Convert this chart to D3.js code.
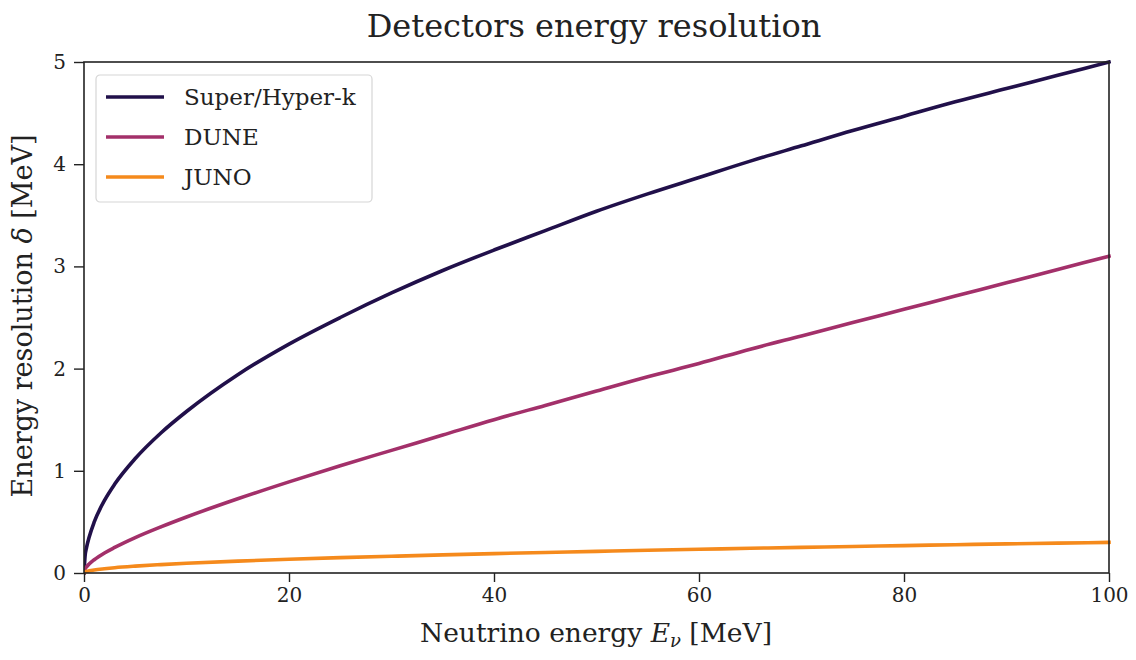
<!DOCTYPE html>
<html>
<head>
<meta charset="utf-8">
<script src="https://cdn.jsdelivr.net/npm/d3@7"></script>
<style>
  body { margin: 0; background: #fff; }
  svg { display: block; }
  text { font-family: "DejaVu Serif", "Liberation Serif", serif; fill: #222; }
</style>
</head>
<body>
<svg id="chart" width="1136" height="660"></svg>
<script>
// Neutrino energy samples [MeV]
const energy = [0, 0.1, 0.25, 0.5, 1, 2, 3, 5, 7.5, 10, 15, 20, 25, 30, 35, 40, 45, 50,
                55, 60, 65, 70, 75, 80, 85, 90, 95, 100];
// Energy resolution delta [MeV] for each detector
const superK = [0, 0.16, 0.25, 0.35, 0.50, 0.71, 0.87, 1.12, 1.37, 1.58, 1.94, 2.24, 2.50,
                2.74, 2.96, 3.16, 3.35, 3.54, 3.71, 3.87, 4.03, 4.18, 4.33, 4.47, 4.61,
                4.74, 4.87, 5.00];
const dune   = [0, 0.037, 0.060, 0.088, 0.13, 0.196, 0.25, 0.346, 0.451, 0.548, 0.726, 0.892,
                1.05, 1.20, 1.35, 1.50, 1.64, 1.78, 1.92, 2.05, 2.19, 2.32, 2.45, 2.58,
                2.71, 2.84, 2.97, 3.10];
const juno   = [0, 0.0095, 0.015, 0.021, 0.030, 0.042, 0.052, 0.067, 0.082, 0.095, 0.116,
                0.134, 0.150, 0.164, 0.177, 0.190, 0.201, 0.212, 0.222, 0.232, 0.242, 0.251,
                0.260, 0.268, 0.277, 0.285, 0.292, 0.300];
const seriesNames = ["Super/Hyper-k", "DUNE", "JUNO"];
const seriesColors = ["#21104a", "#a3306a", "#f58a1c"];
const xTicks = [0, 20, 40, 60, 80, 100];
const yTicks = [0, 1, 2, 3, 4, 5];

const series = [superK, dune, juno].map((vals, i) => ({
  name: seriesNames[i],
  color: seriesColors[i],
  points: energy.map((e, j) => [e, vals[j]])
}));

const svg = d3.select("#chart");
const margin = { left: 84, right: 27, top: 62, bottom: 87 };
const W = 1136, H = 660;

const x = d3.scaleLinear().domain([0, 100]).range([margin.left, W - margin.right]);
const y = d3.scaleLinear().domain([0, 5]).range([H - margin.bottom, margin.top]);

// Curves
const line = d3.line().x(d => x(d[0])).y(d => y(d[1])).curve(d3.curveMonotoneX);
const plot = svg.append("g");
plot.append("clipPath").attr("id", "clip").append("rect")
  .attr("x", x(0)).attr("y", y(5) - 2).attr("width", x(100) - x(0) + 2).attr("height", y(0) - y(5) + 4);
series.forEach(s => {
  plot.append("path")
    .attr("d", line(s.points))
    .attr("fill", "none")
    .attr("stroke", s.color)
    .attr("stroke-width", 3.6)
    .attr("stroke-linecap", "square")
    .attr("clip-path", "url(#clip)");
});

// Frame
svg.append("rect")
  .attr("x", x(0)).attr("y", y(5))
  .attr("width", x(100) - x(0)).attr("height", y(0) - y(5))
  .attr("fill", "none").attr("stroke", "#222").attr("stroke-width", 1.6);

// Axes
const xAxis = svg.append("g").attr("transform", `translate(0,${y(0)})`)
  .call(d3.axisBottom(x).tickValues(xTicks).tickFormat(d3.format("d")).tickSize(9).tickPadding(6));
const yAxis = svg.append("g").attr("transform", `translate(${x(0)},0)`)
  .call(d3.axisLeft(y).tickValues(yTicks).tickFormat(d3.format("d")).tickSize(10).tickPadding(8));
[xAxis, yAxis].forEach(a => {
  a.select(".domain").remove();
  a.selectAll(".tick line").attr("stroke", "#222").attr("stroke-width", 1.4);
  a.selectAll(".tick text").attr("font-size", 20).attr("fill", "#222")
    .style("font-family", '"DejaVu Serif", serif');
});

// Title and axis labels
svg.append("text").attr("x", 594).attr("y", 37)
  .attr("text-anchor", "middle").attr("font-size", 32).text("Detectors energy resolution");

const xl = svg.append("text").attr("x", 596).attr("y", 642)
  .attr("text-anchor", "middle").attr("font-size", 26.5);
xl.append("tspan").text("Neutrino energy ");
xl.append("tspan").attr("font-style", "italic").text("E");
xl.append("tspan").attr("font-style", "italic").attr("font-size", 18).attr("dy", 5).text("ν");
xl.append("tspan").attr("dy", -5).text(" [MeV]");

const yl = svg.append("text")
  .attr("transform", "translate(32,316) rotate(-90)")
  .attr("text-anchor", "middle").attr("font-size", 27);
yl.append("tspan").text("Energy resolution ");
yl.append("tspan").attr("font-style", "italic").text("δ");
yl.append("tspan").text(" [MeV]");

// Legend
const lg = svg.append("g").attr("transform", "translate(96,75)");
lg.append("rect").attr("width", 276).attr("height", 127).attr("rx", 4)
  .attr("fill", "#fff").attr("stroke", "#d6d6d6").attr("stroke-width", 1.2);
series.forEach((s, i) => {
  const cy = 22 + i * 40;
  lg.append("line").attr("x1", 10).attr("x2", 68).attr("y1", cy).attr("y2", cy)
    .attr("stroke", s.color).attr("stroke-width", 3.6);
  lg.append("text").attr("x", 88).attr("y", cy + 8).attr("font-size", 23).text(s.name);
});
</script>
</body>
</html>
